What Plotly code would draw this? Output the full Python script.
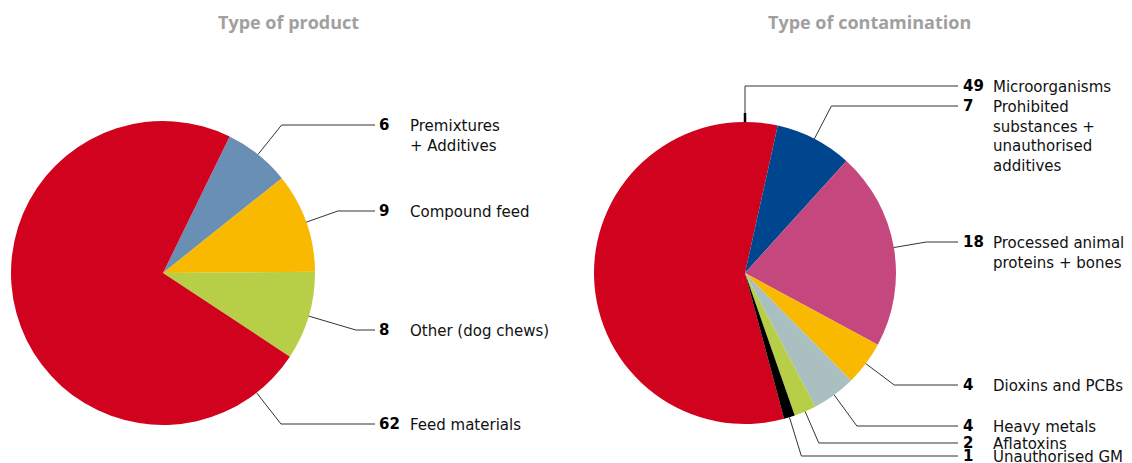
import math
import plotly.graph_objects as go

W, H = 1132, 463
OFF = 8  # the page body offsets the figure by 8px

product_labels = ['Premixtures<br>+ Additives', 'Compound feed', 'Other (dog chews)', 'Feed materials']
product_values = [6, 9, 8, 62]
product_colors = ['#6a8fb4', '#f8b900', '#b6cf47', '#d0021e']

contam_labels = ['Microorganisms', 'Prohibited<br>substances +<br>unauthorised<br>additives',
                 'Processed animal<br>proteins + bones', 'Dioxins and PCBs', 'Heavy metals',
                 'Aflatoxins', 'Unauthorised GM']
contam_values = [49, 7, 18, 4, 4, 2, 1]
contam_colors = ['#d0021e', '#00468e', '#c4477e', '#f8b900', '#aabfc0', '#b6cf47', '#000000']

# layout of the two pies (pixels in the screenshot)
pies = [
    dict(labels=product_labels, values=product_values, colors=product_colors,
         cx=163, cy=273, r=152, rotation=26, title='Type of product', title_x=288,
         label_y=[125, 211, 330, 424], anchor={3: 142},
         line_end=375, num_x=377, text_x=408),
    dict(labels=contam_labels, values=contam_values, colors=contam_colors,
         cx=745, cy=273, r=151, rotation=165, title='Type of contamination', title_x=869,
         label_y=[86, 106, 242, 385, 426, 443, 456], anchor={0: 0},
         line_end=958, num_x=961, text_x=991),
]


def px(x):
    return (x - OFF) / W


def py(y):
    return 1 - (y - OFF) / H


fig = go.Figure()
shapes = []
annotations = []

for p in pies:
    cx, cy, r = p['cx'], p['cy'], p['r']
    fig.add_trace(go.Pie(
        labels=p['labels'], values=p['values'],
        marker=dict(colors=p['colors'], line=dict(width=0)),
        sort=False, direction='clockwise', rotation=p['rotation'],
        textinfo='none', hoverinfo='label+value', showlegend=False,
        domain=dict(x=[px(cx - r), px(cx + r)], y=[py(cy + r), py(cy - r)]),
    ))

    total = sum(p['values'])
    start = p['rotation']
    for i, v in enumerate(p['values']):
        span = 360 * v / total
        ang = p['anchor'].get(i, start + span / 2)
        start += span
        a = math.radians(ang)
        x0 = cx + r * math.sin(a)
        y0 = cy - r * math.cos(a)
        ly = p['label_y'][i]
        # radial line until label height, then horizontal
        if abs(math.cos(a)) > 1e-6:
            t = (cy - ly) / math.cos(a)
        else:
            t = r
        x1 = cx + t * math.sin(a)
        shapes.append(dict(
            type='path', xref='paper', yref='paper',
            path=f"M {px(x0)} {py(y0)} L {px(x1)} {py(ly)} L {px(p['line_end'])} {py(ly)}",
            line=dict(color='#333333', width=1),
        ))
        if i in p['anchor'] and ang == 0:
            # short heavier tick where the line leaves the pie
            shapes.append(dict(
                type='line', xref='paper', yref='paper',
                x0=px(x0), x1=px(x0), y0=py(y0), y1=py(y0 - 9),
                line=dict(color='#000000', width=2.5),
            ))
        annotations.append(dict(
            x=px(p['num_x']), y=py(ly), xref='paper', yref='paper',
            text=f"<b>{v}</b>", showarrow=False, xanchor='left', yanchor='middle',
            font=dict(family='DejaVu Sans', size=15, color='#000000'),
        ))
        annotations.append(dict(
            x=px(p['text_x']), y=py(ly - 10), xref='paper', yref='paper',
            text=p['labels'][i], showarrow=False, xanchor='left', yanchor='top',
            align='left', font=dict(family='DejaVu Sans', size=15, color='#111111'),
        ))

    annotations.append(dict(
        x=px(p['title_x']), y=py(22), xref='paper', yref='paper',
        text=f"<b>{p['title']}</b>", showarrow=False, xanchor='center', yanchor='middle',
        font=dict(family='Open Sans', size=18, color='#a0a0a0'),
    ))

fig.update_layout(
    width=W, height=H,
    margin=dict(l=0, r=0, t=0, b=0),
    paper_bgcolor='white', plot_bgcolor='white',
    shapes=shapes, annotations=annotations,
)

fig.write_html("out.html")
